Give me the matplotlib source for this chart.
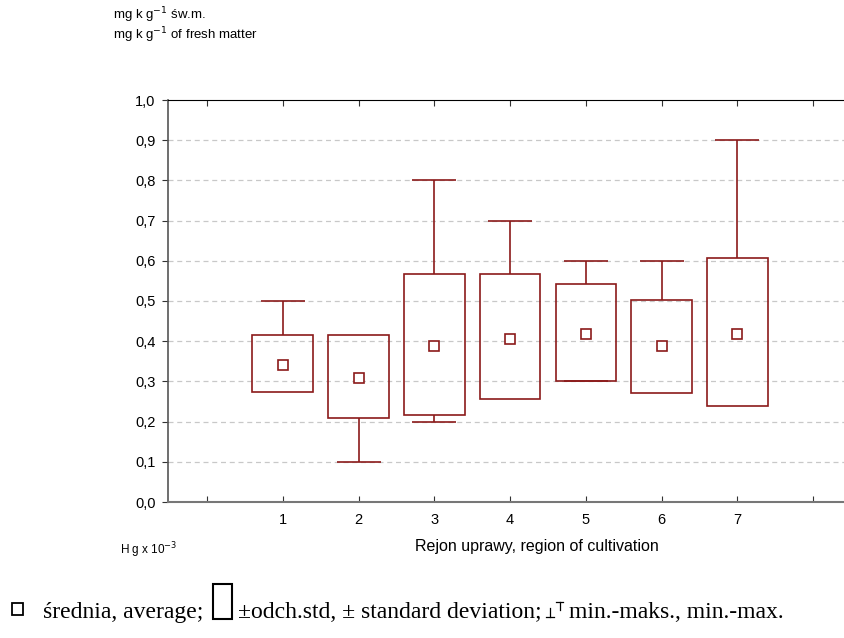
import numpy as np
import matplotlib.pyplot as plt
from matplotlib.patches import Rectangle
from matplotlib.lines import Line2D

# region of cultivation 1..7, Hg x 10^-3 mg/kg fresh matter
region = [1, 2, 3, 4, 5, 6, 7]
mean = [0.340, 0.308, 0.388, 0.405, 0.419, 0.387, 0.419]
sd_lo = [0.273, 0.209, 0.216, 0.257, 0.302, 0.271, 0.240]
sd_hi = [0.416, 0.416, 0.568, 0.568, 0.543, 0.503, 0.606]
vmin = [0.273, 0.10, 0.20, 0.257, 0.30, 0.271, 0.240]
vmax = [0.50, 0.416, 0.80, 0.70, 0.60, 0.60, 0.90]

red = '#8B1A1A'
plt.rcParams['font.family'] = ['Liberation Sans', 'DejaVu Sans']

fig = plt.figure(figsize=(8.44, 6.38), dpi=100)
W, H = 844, 638
ax = fig.add_axes([168 / W, 136 / H, 683 / W, 402 / H])

x = np.array(region)
ax.bar(x, np.array(sd_hi) - np.array(sd_lo), bottom=sd_lo, width=0.8,
       fill=False, edgecolor=red, linewidth=1.2, zorder=3)
ax.vlines(x, sd_hi, vmax, color=red, linewidth=1.2, zorder=3)
ax.vlines(x, vmin, sd_lo, color=red, linewidth=1.2, zorder=3)
for i in range(len(x)):
    if vmax[i] > sd_hi[i]:
        ax.hlines(vmax[i], x[i] - 0.29, x[i] + 0.29, color=red, linewidth=1.2, zorder=3)
    if vmin[i] < sd_lo[i]:
        ax.hlines(vmin[i], x[i] - 0.29, x[i] + 0.29, color=red, linewidth=1.2, zorder=3)
ax.plot(x, mean, 's', markersize=7, markerfacecolor='white',
        markeredgecolor=red, markeredgewidth=1.2, zorder=4)

ax.set_xlim(-0.515, 8.5)
ax.set_ylim(0, 1.0)
ax.set_xticks(range(0, 9))
ax.set_xticklabels([''] + [str(r) for r in region] + [''], fontsize=10.5)
yt = np.arange(0, 1.01, 0.1)
ax.set_yticks(yt)
ax.set_yticklabels([('%.1f' % v).replace('.', ',') for v in yt], fontsize=10.5)
ax.tick_params(axis='x', direction='in', length=4, top=True, colors='#333333', labelcolor='black', pad=8)
ax.tick_params(axis='y', direction='out', length=4, colors='#333333', labelcolor='black', pad=5)
for v in yt[1:-1]:
    ax.axhline(v, color='#c8c8c8', linestyle=(0, (4, 3)), linewidth=0.9, zorder=1)

ax.spines['right'].set_visible(False)
ax.spines['top'].set_color('black')
ax.spines['left'].set_color('#555555')
ax.spines['bottom'].set_color('#777777')
ax.spines['bottom'].set_linewidth(1.5)
ax.spines['left'].set_linewidth(1.2)

ax.text(0.54, -0.11, 'Rejon uprawy, region of cultivation', transform=ax.transAxes,
        ha='center', va='center', fontsize=11.5)
fig.text(120 / W, 1 - 550 / H, 'H g x 10$^{-3}$', fontsize=8.5, va='center')
fig.text(113 / W, 1 - 15 / H, 'mg k g$^{-1}$ św.m.', fontsize=9.5, va='center')
fig.text(113 / W, 1 - 35 / H, 'mg k g$^{-1}$ of fresh matter', fontsize=9.5, va='center')

# legend line at the bottom
serif = ['Liberation Serif', 'DejaVu Serif']
fig.patches.append(Rectangle((12 / W, 1 - 615 / H), 11 / W, 12 / H, fill=False,
                             edgecolor='black', linewidth=1.3, transform=fig.transFigure))
fig.patches.append(Rectangle((213 / W, 1 - 619 / H), 19 / W, 35 / H, fill=False,
                             edgecolor='black', linewidth=1.5, transform=fig.transFigure))
base = 1 - 618 / H
fig.text(43 / W, base, 'średnia, average;', family=serif, fontsize=17, va='baseline')
fig.text(238 / W, base, '±odch.std, ± standard deviation;', family=serif,
         fontsize=17, va='baseline')
fig.text(569 / W, base, 'min.-maks., min.-max.', family=serif, fontsize=17, va='baseline')


def seg(xs, ys):
    fig.add_artist(Line2D([v / W for v in xs], [1 - v / H for v in ys],
                          transform=fig.transFigure, color='black', linewidth=0.9))


# min / max whisker symbols
seg([546, 554], [617, 617])
seg([550, 550], [617, 608])
seg([556, 563], [602, 602])
seg([559.5, 559.5], [602, 610])

fig.savefig('out.png', dpi=100)
